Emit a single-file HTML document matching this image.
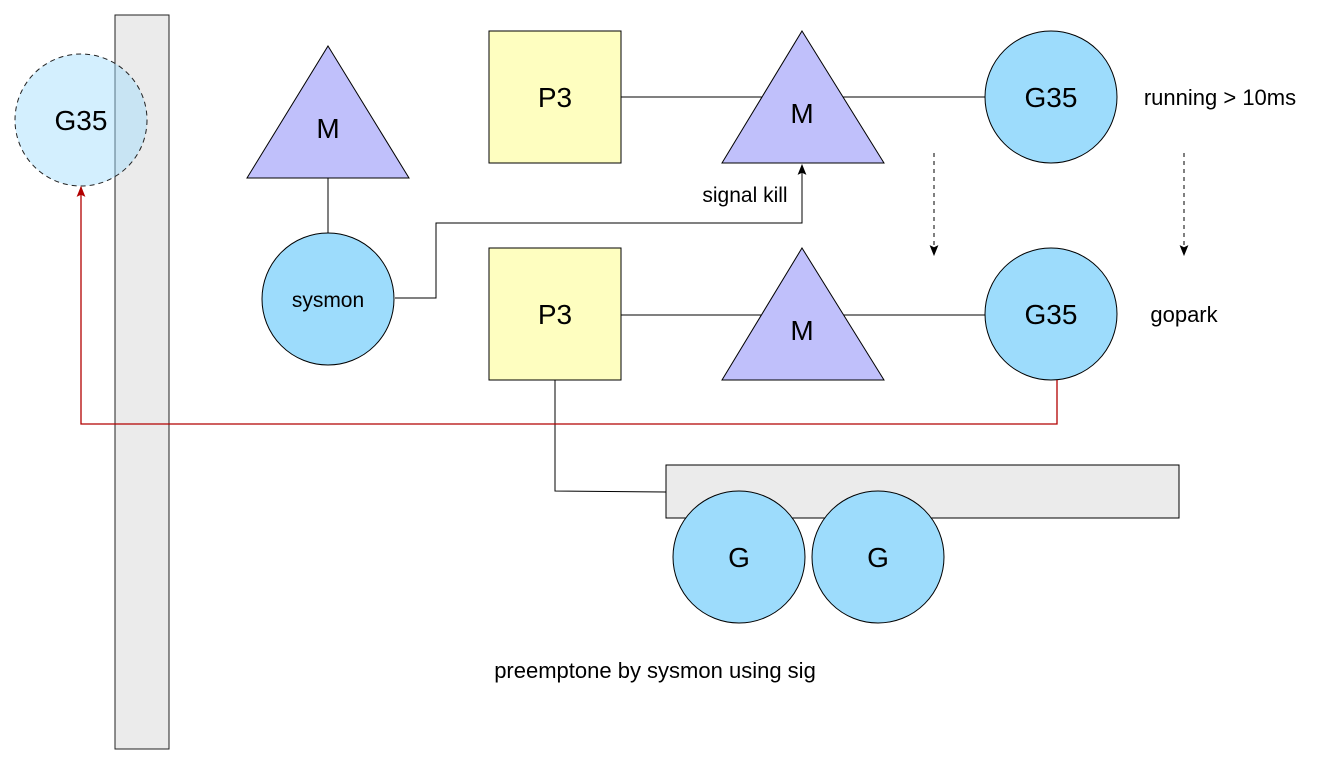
<!DOCTYPE html>
<html><head><meta charset="utf-8"><style>
html,body{margin:0;padding:0;background:#fff;}
svg{display:block;font-family:"Liberation Sans",Arial,sans-serif;}
</style></head><body>
<svg width="1317" height="764" viewBox="0 0 1317 764">
<defs>
<marker id="ab" markerWidth="11" markerHeight="11" refX="9" refY="5" orient="auto" markerUnits="userSpaceOnUse" viewBox="0 0 10 10"><path d="M0,1 L10,5 L0,9 L2,5 Z" fill="#000"/></marker>
<marker id="ar" markerWidth="11" markerHeight="11" refX="9" refY="5" orient="auto" markerUnits="userSpaceOnUse" viewBox="0 0 10 10"><path d="M0,1 L10,5 L0,9 L2,5 Z" fill="#b20000"/></marker>
</defs>
<rect x="115" y="15" width="54" height="734" fill="#ebebeb" stroke="#222" stroke-width="1"/>
<g>
<circle cx="81" cy="120" r="66" fill="#9ddcfc" fill-opacity="0.45" stroke="#222" stroke-dasharray="5,4"/>
<text x="81" y="130" text-anchor="middle" font-size="28">G35</text></g>
<line x1="328" y1="178" x2="328" y2="233" stroke="#000"/>
<g>
<polygon points="328,46 409,178 247,178" fill="#c0c0fb" stroke="#000"/>
<text x="328" y="138" text-anchor="middle" font-size="28">M</text></g>
<g>
<circle cx="328" cy="299" r="66" fill="#9ddcfc" stroke="#000"/>
<text x="328" y="307" text-anchor="middle" font-size="21">sysmon</text></g>
<polyline points="395,298 436,298 436,223 802,223 802,165" fill="none" stroke="#000" marker-end="url(#ab)"/>
<text x="745" y="202" text-anchor="middle" font-size="21">signal kill</text>
<line x1="621" y1="97" x2="985" y2="97" stroke="#000"/>
<rect x="489" y="31" width="132" height="132" fill="#fefec0" stroke="#000"/>
<text x="555" y="107" text-anchor="middle" font-size="28">P3</text>
<g>
<polygon points="802,31 884,163 722,163" fill="#c0c0fb" stroke="#000"/>
<text x="802" y="123" text-anchor="middle" font-size="28">M</text></g>
<g>
<circle cx="1051" cy="97" r="66" fill="#9ddcfc" stroke="#000"/>
<text x="1051" y="107" text-anchor="middle" font-size="28">G35</text></g>
<text x="1220" y="105" text-anchor="middle" font-size="22">running &gt; 10ms</text>
<line x1="934" y1="153" x2="934" y2="255" stroke="#000" stroke-dasharray="4,4" marker-end="url(#ab)"/>
<line x1="1184" y1="153" x2="1184" y2="255" stroke="#000" stroke-dasharray="4,4" marker-end="url(#ab)"/>
<polyline points="555,380 555,491 666,492" fill="none" stroke="#000"/>
<line x1="621" y1="315" x2="985" y2="315" stroke="#000"/>
<rect x="489" y="248" width="132" height="132" fill="#fefec0" stroke="#000"/>
<text x="555" y="324" text-anchor="middle" font-size="28">P3</text>
<g>
<polygon points="802,248 884,380 722,380" fill="#c0c0fb" stroke="#000"/>
<text x="802" y="340" text-anchor="middle" font-size="28">M</text></g>
<g>
<circle cx="1051" cy="314" r="66" fill="#9ddcfc" stroke="#000"/>
<text x="1051" y="324" text-anchor="middle" font-size="28">G35</text></g>
<text x="1184" y="322" text-anchor="middle" font-size="22">gopark</text>
<polyline points="1057,380 1057,424 81,424 81,187" fill="none" stroke="#b20000" stroke-width="1.3" marker-end="url(#ar)"/>
<rect x="666" y="465" width="513" height="53" fill="#ebebeb" stroke="#000"/>
<g>
<circle cx="739" cy="557" r="66" fill="#9ddcfc" stroke="#000"/>
<text x="739" y="567" text-anchor="middle" font-size="28">G</text></g>
<g>
<circle cx="878" cy="557" r="66" fill="#9ddcfc" stroke="#000"/>
<text x="878" y="567" text-anchor="middle" font-size="28">G</text></g>
<text x="655" y="678" text-anchor="middle" font-size="22">preemptone by sysmon using sig</text>
</svg>
</body></html>
